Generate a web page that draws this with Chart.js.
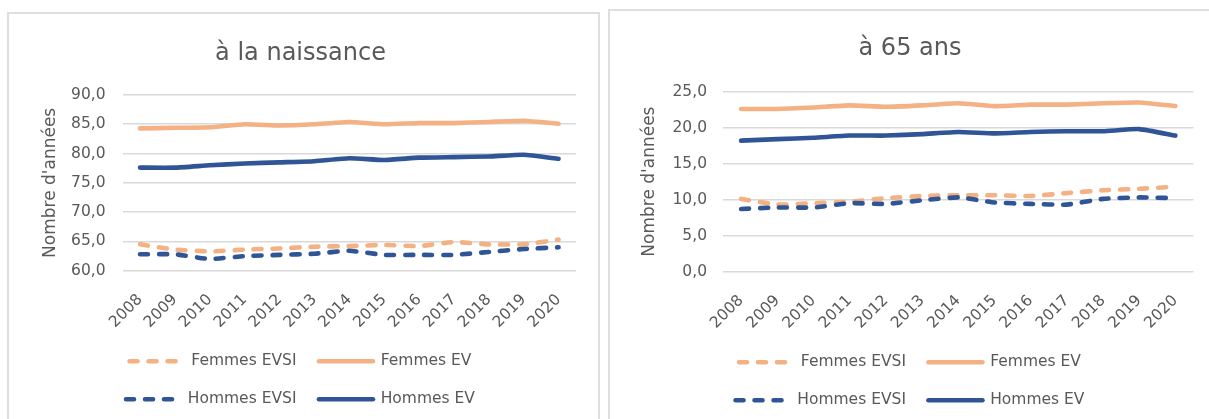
<!DOCTYPE html>
<html lang="fr">
<head>
<meta charset="utf-8">
<title>Espérance de vie et espérance de vie sans incapacité</title>
<script src="https://cdn.jsdelivr.net/npm/chart.js@4/dist/chart.umd.min.js"></script>
<style>
  html, body { margin: 0; padding: 0; background: #ffffff; }
  body { width: 1209px; height: 419px; position: relative; overflow: hidden; }
  .panel { position: absolute; box-sizing: border-box; border: 2px solid #dedede; border-bottom: none; background: #ffffff; }
  #panelBirth { left: 7px; top: 12px; width: 593px; height: 420px; }
  #panel65 { left: 608px; top: 9px; width: 640px; height: 420px; }
  canvas { position: absolute; }
  #chartBirth { left: 0px; top: 0px; }
  #chart65 { left: 600px; top: 0px; }
</style>
</head>
<body>
<div class="panel" id="panelBirth"></div>
<div class="panel" id="panel65"></div>
<canvas id="chartBirth" width="600" height="419"></canvas>
<canvas id="chart65" width="609" height="419"></canvas>
<script>
// Années
const years = ['2008', '2009', '2010', '2011', '2012', '2013', '2014', '2015', '2016', '2017', '2018', '2019', '2020'];

// Espérances à la naissance (années)
const birthFemmesEVSI = [64.5, 63.6, 63.3, 63.6, 63.8, 64.1, 64.2, 64.4, 64.2, 64.9, 64.5, 64.5, 65.3];
const birthFemmesEV   = [84.3, 84.4, 84.5, 85.0, 84.8, 85.0, 85.4, 85.0, 85.2, 85.2, 85.4, 85.6, 85.1];
const birthHommesEVSI = [62.8, 62.8, 62.0, 62.5, 62.7, 62.9, 63.4, 62.7, 62.7, 62.7, 63.2, 63.7, 64.0];
const birthHommesEV   = [77.6, 77.6, 78.0, 78.3, 78.5, 78.7, 79.2, 78.9, 79.3, 79.4, 79.5, 79.8, 79.1];

// Espérances à 65 ans (années)
const at65FemmesEVSI = [10.1, 9.3, 9.5, 9.7, 10.2, 10.5, 10.6, 10.6, 10.5, 10.9, 11.3, 11.5, 11.8];
const at65FemmesEV   = [22.6, 22.6, 22.8, 23.1, 22.9, 23.1, 23.4, 23.0, 23.2, 23.2, 23.4, 23.5, 23.0];
const at65HommesEVSI = [8.7, 8.9, 8.9, 9.5, 9.4, 9.9, 10.3, 9.6, 9.4, 9.3, 10.1, 10.3, 10.2];
const at65HommesEV   = [18.2, 18.4, 18.6, 18.9, 18.9, 19.1, 19.4, 19.2, 19.4, 19.5, 19.5, 19.8, 18.9];

// Libellés
const seriesLabels = ['Femmes EVSI', 'Femmes EV', 'Hommes EVSI', 'Hommes EV'];
const axisTitle = "Nombre d'années";
const birthTitle = 'à la naissance';
const at65Title = 'à 65 ans';
const birthTicks = { min: 60, max: 90, step: 5 };
const at65Ticks = { min: 0, max: 25, step: 5 };

const ORANGE = '#f4b183';
const BLUE = '#2f5597';
const TEXT = '#595959';
const GRID = '#d9d9d9';

Chart.defaults.font.family = "'DejaVu Sans', sans-serif";
Chart.defaults.color = TEXT;

function lineDataset(label, data, color, dashed, order) {
  return {
    label: label,
    data: data,
    borderColor: color,
    backgroundColor: color,
    borderWidth: 4.6,
    borderDash: dashed ? [8, 11] : [],
    borderCapStyle: 'round',
    borderJoinStyle: 'round',
    pointRadius: 0,
    pointHoverRadius: 0,
    tension: 0.15,
    fill: false,
    order: order
  };
}

// Legend samples: reuse each dataset's stroke (dash, caps, width)
function legendLabels(chart) {
  const items = Chart.defaults.plugins.legend.labels.generateLabels(chart);
  items.forEach((item) => {
    const ds = chart.data.datasets[item.datasetIndex];
    item.lineDash = ds.borderDash;
    item.lineCap = ds.borderCapStyle;
    item.lineWidth = ds.borderWidth;
    item.strokeStyle = ds.borderColor;
  });
  return items;
}

function buildChart(canvasId, title, series, ticks, geom) {
  const ctx = document.getElementById(canvasId);
  return new Chart(ctx, {
    type: 'line',
    data: {
      labels: years,
      datasets: [
        lineDataset(seriesLabels[0], series[0], ORANGE, true, 2),
        lineDataset(seriesLabels[1], series[1], ORANGE, false, 3),
        lineDataset(seriesLabels[2], series[2], BLUE, true, 0),
        lineDataset(seriesLabels[3], series[3], BLUE, false, 1)
      ]
    },
    options: {
      responsive: false,
      animation: false,
      devicePixelRatio: 1,
      layout: {
        padding: { left: geom.padLeft, right: geom.padRight, top: 0, bottom: geom.padBottom }
      },
      plugins: {
        title: {
          display: true,
          text: title,
          color: TEXT,
          font: { size: 24, weight: 'normal' },
          padding: { top: geom.titleTop, bottom: geom.titleBottom }
        },
        legend: {
          position: 'bottom',
          labels: {
            usePointStyle: true,
            pointStyle: 'line',
            pointStyleWidth: 54,
            padding: 22.5,
            color: TEXT,
            font: { size: 15.5 },
            generateLabels: legendLabels,
            sort: (a, b) => a.datasetIndex - b.datasetIndex
          }
        },
        tooltip: { enabled: false }
      },
      scales: {
        x: {
          offset: true,
          grid: { display: false, drawTicks: false },
          border: { display: false },
          ticks: {
            color: TEXT,
            font: { size: 15.5 },
            minRotation: 45,
            maxRotation: 45,
            autoSkip: false,
            padding: geom.xPad
          },
          afterFit: (scale) => { scale.height = geom.xHeight; }
        },
        y: {
          min: ticks.min,
          max: ticks.max,
          grid: { color: GRID, lineWidth: 1.6, drawTicks: false },
          border: { display: false },
          ticks: {
            stepSize: ticks.step,
            color: TEXT,
            font: { size: 15.5 },
            padding: geom.yPad,
            callback: (v) => v.toFixed(1).replace('.', ',')
          },
          title: {
            display: true,
            text: axisTitle,
            color: TEXT,
            font: { size: 17 },
            padding: { top: geom.yTitlePad, bottom: 0 }
          },
          afterFit: (scale) => { scale.width = geom.yWidth; }
        }
      }
    }
  });
}

buildChart('chartBirth', birthTitle,
  [birthFemmesEVSI, birthFemmesEV, birthHommesEVSI, birthHommesEV], birthTicks,
  { padLeft: 25, padRight: 24, padBottom: 2, titleTop: 39.5, titleBottom: 26.7,
    xHeight: 60.3, xPad: 20, yPad: 17, yWidth: 97.6, yTitlePad: 15 });

buildChart('chart65', at65Title,
  [at65FemmesEVSI, at65FemmesEV, at65HommesEVSI, at65HommesEV], at65Ticks,
  { padLeft: 23, padRight: 12, padBottom: 1, titleTop: 34.5, titleBottom: 28.4,
    xHeight: 60.5, xPad: 20, yPad: 16, yWidth: 100, yTitlePad: 16 });
</script>
</body>
</html>
